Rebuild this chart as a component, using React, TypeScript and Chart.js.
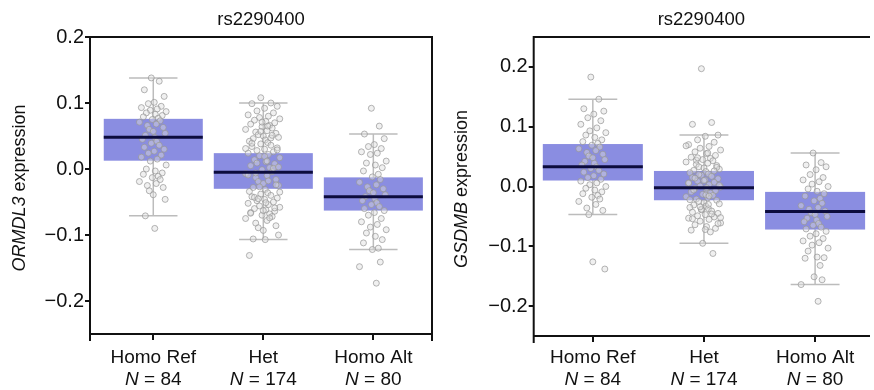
import React, { useEffect, useRef } from 'react';
import { Chart, registerables } from 'chart.js';

Chart.register(...registerables);

// ---------------- data ----------------
const SNP = 'rs2290400';
const CATEGORIES = ['Homo Ref', 'Het', 'Homo Alt'];
const COUNTS = [84, 174, 80];

// Panel A: ORMDL3
const ORMDL3_Y_TICKS = [-0.2, -0.1, 0.0, 0.1, 0.2];
const ORMDL3_Q1 = [0.0126, -0.030, -0.063];
const ORMDL3_MEDIAN = [0.048, -0.005, -0.042];
const ORMDL3_Q3 = [0.076, 0.024, -0.0127];
const ORMDL3_WHISKER_LO = [-0.071, -0.107, -0.122];
const ORMDL3_WHISKER_HI = [0.138, 0.100, 0.053];
const ORMDL3_REF = [0.138, 0.133, 0.120, 0.110, 0.101, 0.099, 0.095, 0.093, 0.091, 0.089, 0.087, 0.085, 0.083, 0.081, 0.079, 0.077, 0.075, 0.073, 0.071, 0.068, 0.066, 0.063, 0.060, 0.057, 0.054, 0.051, 0.048, 0.045, 0.042, 0.039, 0.036, 0.033, 0.030, 0.027, 0.024, 0.021, 0.018, 0.015, 0.012, 0.006, 0.000, -0.003, -0.006, -0.008, -0.011, -0.013, -0.016, -0.019, -0.022, -0.025, -0.028, -0.033, -0.039, -0.046, -0.071, -0.090];
const ORMDL3_HET = [0.108, 0.100, 0.099, 0.095, 0.092, 0.088, 0.085, 0.082, 0.080, 0.078, 0.076, 0.074, 0.072, 0.070, 0.068, 0.066, 0.064, 0.062, 0.060, 0.058, 0.056, 0.054, 0.052, 0.050, 0.048, 0.046, 0.044, 0.042, 0.040, 0.038, 0.036, 0.034, 0.032, 0.030, 0.028, 0.026, 0.024, 0.022, 0.020, 0.017, 0.014, 0.011, 0.008, 0.005, 0.002, -0.001, -0.004, -0.007, -0.010, -0.013, -0.016, -0.019, -0.022, -0.025, -0.028, -0.031, -0.034, -0.036, -0.038, -0.040, -0.042, -0.044, -0.046, -0.048, -0.050, -0.052, -0.054, -0.056, -0.058, -0.060, -0.062, -0.064, -0.066, -0.068, -0.070, -0.072, -0.075, -0.078, -0.082, -0.086, -0.089, -0.093, -0.100, -0.106, -0.107, -0.131, 0.065, 0.057, 0.047, 0.039, 0.029, 0.019, 0.009, 0.001, -0.009, -0.018, -0.027, -0.035, -0.043, -0.051, -0.059, -0.067, -0.074, 0.071, 0.051, 0.031, 0.012, -0.006, -0.024, -0.045, -0.063, 0.003];
const ORMDL3_ALT = [0.092, 0.065, 0.053, 0.046, 0.037, 0.034, 0.031, 0.026, 0.024, 0.022, 0.012, 0.009, 0.006, 0.002, -0.003, -0.008, -0.012, -0.016, -0.020, -0.024, -0.027, -0.030, -0.033, -0.036, -0.039, -0.042, -0.045, -0.048, -0.051, -0.054, -0.057, -0.060, -0.063, -0.066, -0.070, -0.075, -0.080, -0.084, -0.088, -0.092, -0.097, -0.102, -0.107, -0.112, -0.120, -0.122, -0.141, -0.148, -0.173];

// Panel B: GSDMB
const GSDMB_Y_TICKS = [-0.2, -0.1, 0.0, 0.1, 0.2];
const GSDMB_Q1 = [0.010, -0.023, -0.072];
const GSDMB_MEDIAN = [0.033, -0.002, -0.042];
const GSDMB_Q3 = [0.071, 0.026, -0.009];
const GSDMB_WHISKER_LO = [-0.047, -0.095, -0.164];
const GSDMB_WHISKER_HI = [0.146, 0.086, 0.056];
const GSDMB_REF = [0.183, 0.146, 0.130, 0.126, 0.121, 0.115, 0.110, 0.104, 0.098, 0.093, 0.090, 0.086, 0.082, 0.078, 0.075, 0.072, 0.069, 0.066, 0.063, 0.060, 0.057, 0.054, 0.051, 0.048, 0.045, 0.042, 0.039, 0.036, 0.033, 0.030, 0.027, 0.024, 0.021, 0.018, 0.015, 0.012, 0.009, 0.006, 0.003, 0.000, -0.003, -0.006, -0.009, -0.012, -0.015, -0.018, -0.021, -0.025, -0.030, -0.036, -0.040, -0.047, -0.126, -0.138];
const GSDMB_HET = [0.197, 0.107, 0.104, 0.086, 0.084, 0.078, 0.074, 0.070, 0.067, 0.064, 0.061, 0.058, 0.055, 0.052, 0.049, 0.047, 0.045, 0.043, 0.041, 0.039, 0.037, 0.035, 0.033, 0.031, 0.029, 0.027, 0.025, 0.023, 0.021, 0.019, 0.017, 0.015, 0.013, 0.011, 0.009, 0.007, 0.005, 0.003, 0.001, -0.001, -0.003, -0.005, -0.007, -0.009, -0.011, -0.013, -0.015, -0.017, -0.019, -0.021, -0.023, -0.025, -0.027, -0.029, -0.031, -0.033, -0.035, -0.037, -0.039, -0.041, -0.043, -0.045, -0.047, -0.049, -0.051, -0.053, -0.055, -0.058, -0.061, -0.064, -0.067, -0.070, -0.073, -0.076, -0.095, -0.112, 0.068, 0.056, 0.044, 0.032, 0.020, 0.010, 0.002, -0.006, -0.014, -0.022, -0.030, -0.038, -0.046, -0.054, -0.062, -0.072, 0.048, 0.026, 0.006, -0.016, -0.034, -0.052, 0.014, -0.002];
const GSDMB_ALT = [0.056, 0.040, 0.036, 0.033, 0.028, 0.020, 0.015, 0.011, 0.008, 0.004, 0.000, -0.004, -0.008, -0.012, -0.016, -0.020, -0.024, -0.028, -0.032, -0.035, -0.038, -0.041, -0.044, -0.047, -0.050, -0.053, -0.056, -0.059, -0.062, -0.065, -0.068, -0.071, -0.075, -0.079, -0.083, -0.087, -0.091, -0.094, -0.098, -0.103, -0.108, -0.118, -0.119, -0.120, -0.132, -0.151, -0.156, -0.164, -0.192];

// ---------------- styling ----------------
const FONT = '"Liberation Sans", Arial, Helvetica, sans-serif';
const BOX_FILL = 'rgb(138,141,225)';
const MEDIAN_COLOR = '#0c0c3e';
const WHISKER_COLOR = 'rgba(188,188,188,1)';
const POINT_STROKE = 'rgba(150,150,150,0.7)';
const POINT_FILL = 'rgba(222,222,222,0.45)';
const BOX_HALF = 0.45;
const CAP_HALF = 0.22;
// fixed jitter pattern (category units) used to spread points horizontally
const JITTER = [-0.02, 0.06, -0.09, 0.11, 0.01, -0.05, 0.08, -0.12, 0.04, -0.03, 0.13, -0.07, 0.02, 0.09, -0.10, 0.05, -0.01, 0.07, -0.14, 0.03, -0.06, 0.10, -0.04, 0.0, 0.12, -0.08, 0.015, -0.11, 0.035];
const JITTER_SCALE = [0.9, 1.15, 0.9];

const fmt = (v: number) => {
  const s = Math.abs(v).toFixed(1);
  return v < -1e-9 ? '\u2212' + s : s;
};

type PanelCfg = {
  gene: string;
  groups: number[][];
  q1: number[]; med: number[]; q3: number[]; wlo: number[]; whi: number[];
  yTicks: number[]; yMin: number; yMax: number;
  xMin: number; xMax: number;
  yAxisWidth: number; xAxisHeight: number; padRight: number;
  drawRight: boolean;
  yTitleX: number; yTitleY: number;
};

const boxPlotPlugin = {
  id: 'boxplot',
  beforeDatasetsDraw(chart: any, _a: any, o: any) {
    const { ctx, scales: { x, y } } = chart;
    ctx.save();
    ctx.strokeStyle = WHISKER_COLOR;
    ctx.lineWidth = 1.5;
    o.q1.forEach((_: number, i: number) => {
      const cx = x.getPixelForValue(i);
      const hw = x.getPixelForValue(i + CAP_HALF) - cx;
      const yl = y.getPixelForValue(o.wlo[i]);
      const yh = y.getPixelForValue(o.whi[i]);
      ctx.beginPath();
      ctx.moveTo(cx, yl); ctx.lineTo(cx, yh);
      ctx.moveTo(cx - hw, yl); ctx.lineTo(cx + hw, yl);
      ctx.moveTo(cx - hw, yh); ctx.lineTo(cx + hw, yh);
      ctx.stroke();
    });
    ctx.fillStyle = BOX_FILL;
    o.q1.forEach((_: number, i: number) => {
      const l = x.getPixelForValue(i - BOX_HALF);
      const r = x.getPixelForValue(i + BOX_HALF);
      const t = y.getPixelForValue(o.q3[i]);
      const b = y.getPixelForValue(o.q1[i]);
      ctx.fillRect(l, t, r - l, b - t);
    });
    ctx.restore();
  },
  afterDatasetsDraw(chart: any, _a: any, o: any) {
    const { ctx, scales: { x, y } } = chart;
    ctx.save();
    ctx.strokeStyle = MEDIAN_COLOR;
    ctx.lineWidth = 3;
    o.med.forEach((m: number, i: number) => {
      const l = x.getPixelForValue(i - BOX_HALF);
      const r = x.getPixelForValue(i + BOX_HALF);
      const py = y.getPixelForValue(m);
      ctx.beginPath(); ctx.moveTo(l, py); ctx.lineTo(r, py); ctx.stroke();
    });
    ctx.restore();
  },
  afterDraw(chart: any, _a: any, o: any) {
    const { ctx, chartArea: ca, scales: { x } } = chart;
    ctx.save();
    ctx.strokeStyle = '#111';
    ctx.lineWidth = 2;
    ctx.beginPath();
    ctx.moveTo(ca.left, ca.top); ctx.lineTo(ca.left, ca.bottom + 7);
    ctx.moveTo(ca.left - 1, ca.top); ctx.lineTo(ca.right + 1, ca.top);
    ctx.moveTo(ca.left - 1, ca.bottom); ctx.lineTo(ca.right + 1, ca.bottom);
    if (o.drawRight) { ctx.moveTo(ca.right, ca.top); ctx.lineTo(ca.right, ca.bottom + 7); }
    ctx.stroke();

    ctx.fillStyle = '#111';
    ctx.textBaseline = 'middle';
    ctx.textAlign = 'center';
    ctx.font = `18.5px ${FONT}`;
    ctx.fillText(SNP, (ca.left + ca.right) / 2, 20);

    const XF = 19;
    CATEGORIES.forEach((c, i) => {
      const cx = x.getPixelForValue(i);
      ctx.font = `${XF}px ${FONT}`;
      ctx.textAlign = 'center';
      ctx.fillText(c, cx, 358);
      const a = 'N';
      const b = ' = ' + COUNTS[i];
      ctx.font = `italic ${XF}px ${FONT}`;
      const wa = ctx.measureText(a).width;
      ctx.font = `${XF}px ${FONT}`;
      const wb = ctx.measureText(b).width;
      const sx = cx - (wa + wb) / 2;
      ctx.textAlign = 'left';
      ctx.font = `italic ${XF}px ${FONT}`;
      ctx.fillText(a, sx, 380);
      ctx.font = `${XF}px ${FONT}`;
      ctx.fillText(b, sx + wa, 380);
    });

    ctx.translate(o.yTitleX, o.yTitleY);
    ctx.rotate(-Math.PI / 2);
    ctx.font = `italic 18px ${FONT}`;
    const g = o.gene;
    const wg = ctx.measureText(g).width;
    ctx.font = `18px ${FONT}`;
    const rest = ' expression';
    const wr = ctx.measureText(rest).width;
    const start = -(wg + wr) / 2;
    ctx.textAlign = 'left';
    ctx.font = `italic 18px ${FONT}`;
    ctx.fillText(g, start, 0);
    ctx.font = `18px ${FONT}`;
    ctx.fillText(rest, start + wg, 0);
    ctx.restore();
  },
};

function Panel({ cfg, left }: { cfg: PanelCfg; left: number }) {
  const ref = useRef<HTMLCanvasElement | null>(null);
  useEffect(() => {
    if (!ref.current) return;
    const data: { x: number; y: number }[] = [];
    cfg.groups.forEach((vals, gi) => {
      vals.forEach((v, k) => {
        data.push({ x: gi + JITTER[k % JITTER.length] * JITTER_SCALE[gi], y: v });
      });
    });
    const chart = new Chart(ref.current, {
      type: 'scatter',
      data: {
        datasets: [{
          data,
          pointRadius: 3,
          pointBorderWidth: 1,
          pointBorderColor: POINT_STROKE,
          pointBackgroundColor: POINT_FILL,
        }],
      },
      options: {
        animation: false,
        responsive: false,
        events: [],
        layout: { padding: { top: 37, right: cfg.padRight, left: 0, bottom: 0 } },
        plugins: {
          legend: { display: false },
          tooltip: { enabled: false },
          title: { display: false },
          boxplot: {
            gene: cfg.gene,
            q1: cfg.q1, med: cfg.med, q3: cfg.q3, wlo: cfg.wlo, whi: cfg.whi,
            drawRight: cfg.drawRight,
            yTitleX: cfg.yTitleX, yTitleY: cfg.yTitleY,
          },
        } as any,
        scales: {
          x: {
            type: 'linear',
            min: cfg.xMin,
            max: cfg.xMax,
            afterBuildTicks: (s: any) => { s.ticks = CATEGORIES.map((_, i) => ({ value: i })); },
            afterFit: (s: any) => { s.height = cfg.xAxisHeight; },
            ticks: { callback: () => '', font: { size: 1 } },
            grid: { drawOnChartArea: false, drawTicks: true, tickLength: 6, color: '#111', lineWidth: 2 },
            border: { display: false },
          },
          y: {
            type: 'linear',
            min: cfg.yMin,
            max: cfg.yMax,
            afterBuildTicks: (s: any) => { s.ticks = cfg.yTicks.map((v) => ({ value: v })); },
            afterFit: (s: any) => { s.width = cfg.yAxisWidth; },
            ticks: {
              callback: (v: any) => fmt(Number(v)),
              font: { family: FONT, size: 20 },
              color: '#111',
              padding: 1,
            },
            grid: { drawOnChartArea: false, drawTicks: true, tickLength: 5, color: '#111', lineWidth: 2 },
            border: { display: false },
          },
        },
      },
      plugins: [boxPlotPlugin as any],
    });
    return () => chart.destroy();
  }, [cfg]);
  return (
    <canvas
      ref={ref}
      width={437}
      height={390}
      style={{ position: 'absolute', left, top: 0, width: 437, height: 390 }}
    />
  );
}

const PANEL_A: PanelCfg = {
  gene: 'ORMDL3',
  groups: [ORMDL3_REF, ORMDL3_HET, ORMDL3_ALT],
  q1: ORMDL3_Q1, med: ORMDL3_MEDIAN, q3: ORMDL3_Q3, wlo: ORMDL3_WHISKER_LO, whi: ORMDL3_WHISKER_HI,
  yTicks: ORMDL3_Y_TICKS, yMin: -0.25, yMax: 0.2,
  xMin: -0.575, xMax: 2.533,
  yAxisWidth: 90, xAxisHeight: 56, padRight: 1,
  drawRight: true,
  yTitleX: 20, yTitleY: 188,
};

const PANEL_B: PanelCfg = {
  gene: 'GSDMB',
  groups: [GSDMB_REF, GSDMB_HET, GSDMB_ALT],
  q1: GSDMB_Q1, med: GSDMB_MEDIAN, q3: GSDMB_Q3, wlo: GSDMB_WHISKER_LO, whi: GSDMB_WHISKER_HI,
  yTicks: GSDMB_Y_TICKS, yMin: -0.25, yMax: 0.25,
  xMin: -0.532, xMax: 2.485,
  yAxisWidth: 96.7, xAxisHeight: 54, padRight: 0,
  drawRight: false,
  yTitleX: 25, yTitleY: 189,
};

export default function App() {
  return (
    <div style={{ position: 'fixed', left: 0, top: 0, width: 874, height: 390, background: '#fff', overflow: 'hidden' }}>
      <Panel cfg={PANEL_A} left={0} />
      <Panel cfg={PANEL_B} left={437} />
    </div>
  );
}
